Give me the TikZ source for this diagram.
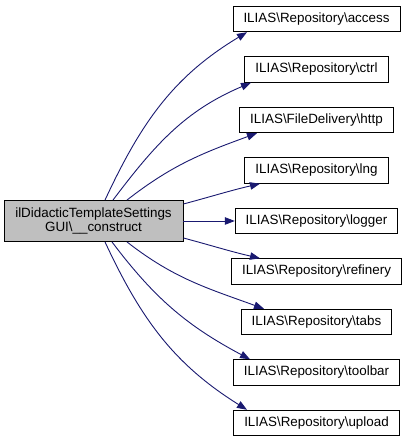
\documentclass[tikz,border=0pt]{standalone}
\usepackage{fontspec}
\setmainfont{Liberation Sans}
\usetikzlibrary{arrows.meta}
\definecolor{edgeblue}{HTML}{191970}
\definecolor{mainfill}{HTML}{BFBFBF}
\newcommand{\bs}{\textbackslash}
\begin{document}
\begin{tikzpicture}[x=1pt,y=1pt,
  every node/.style={font=\fontsize{13.4}{14}\selectfont},
  target/.style={draw=black, fill=white, line width=0.9pt, inner xsep=10.5pt, inner ysep=0pt, minimum height=25.5pt, anchor=center},
  mainbox/.style={draw=black, fill=mainfill, line width=0.9pt, minimum width=179pt, minimum height=41pt, inner sep=0pt, align=center},
  link/.style={draw=edgeblue, line width=0.9pt, -{Triangle[length=10pt,width=7.5pt]}}
]
\useasboundingbox (0,0) rectangle (407,443);
\node[mainbox] (L) at (93.5,222) {ilDidacticTemplateSettings\\GUI\bs\_\_construct};
\node[target] (access)   at (316.5,424)   {ILIAS\bs Repository\bs access};
\node[target] (ctrl)     at (316.5,373.5) {ILIAS\bs Repository\bs ctrl};
\node[target] (http)     at (316.5,323)   {ILIAS\bs FileDelivery\bs http};
\node[target] (lng)      at (316.5,272.5) {ILIAS\bs Repository\bs lng};
\node[target] (logger)   at (316.5,222)   {ILIAS\bs Repository\bs logger};
\node[target] (refinery) at (316.5,171.5) {ILIAS\bs Repository\bs refinery};
\node[target] (tabs)     at (316.5,121)   {ILIAS\bs Repository\bs tabs};
\node[target] (toolbar)  at (316.5,70.5)  {ILIAS\bs Repository\bs toolbar};
\node[target] (upload)   at (316.5,20)    {ILIAS\bs Repository\bs upload};

\draw[link] (105,0 |- L.north) to[out=65,in=211] (247,0 |- access.south);
\draw[link] (113,0 |- L.north) to[out=53,in=203] (251,0 |- ctrl.south);
\draw[link] (127,0 |- L.north) to[out=38,in=200] (257,0 |- http.south);
\draw[link] (L.east |- 0,239) to[out=15,in=193] (260,0 |- lng.south);
\draw[link] (L.east) -- (logger.west);
\draw[link] (L.east |- 0,205) to[out=-15,in=167] (260,0 |- refinery.north);
\draw[link] (127,0 |- L.south) to[out=-38,in=160] (264,0 |- tabs.north);
\draw[link] (112,0 |- L.south) to[out=-53,in=152] (250,0 |- toolbar.north);
\draw[link] (105,0 |- L.south) to[out=-65,in=148] (247,0 |- upload.north);
\end{tikzpicture}
\end{document}
